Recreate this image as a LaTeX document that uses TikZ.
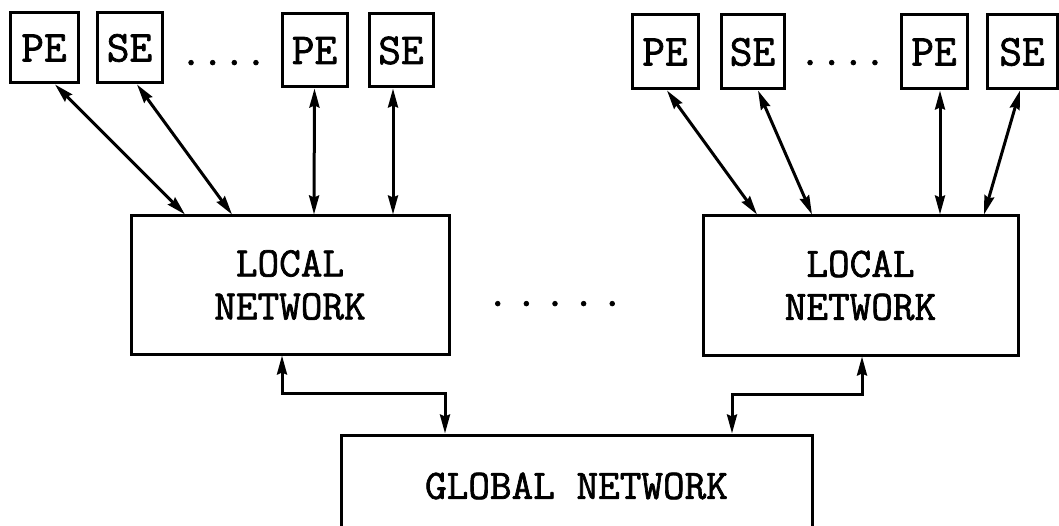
\documentclass[tikz,border=0pt]{standalone}
\usepackage{fontspec}
\usetikzlibrary{arrows.meta}
% a slightly heavier typewriter face
\newfontfamily\twfont[FakeBold=1.6]{Latin Modern Mono}
\begin{document}
\begin{tikzpicture}[x=1pt,y=-1pt,
  line width=3pt,
  every node/.style={font=\twfont\fontsize{42}{43}\selectfont},
  elem/.style={draw, rectangle, inner sep=0pt, minimum height=73pt,
    font=\twfont\fontsize{44}{44}\selectfont},
  netbox/.style={draw, rectangle, inner sep=0pt, align=center},
  link/.style={{Stealth[length=19pt,width=10pt,inset=2pt]}-{Stealth[length=19pt,width=10pt,inset=2pt]}},
  dotrow/.style={anchor=base, inner sep=0pt}]
\useasboundingbox (0,0) rectangle (1059,526);

% processing and storage elements, left cluster
\node[elem, minimum width=68pt, minimum height=70pt] (pe1) at (44,48) {PE};
\node[elem, minimum width=65pt, minimum height=70pt] (se1) at (129.5,48) {SE};
\node[dotrow] (d1) at (223.5,65) {....};
\node[elem, minimum width=65pt] (pe2) at (314.5,50.5) {PE};
\node[elem, minimum width=64pt] (se2) at (401,50.5) {SE};

% processing and storage elements, right cluster
\node[elem, minimum width=66pt, minimum height=74pt] (pe3) at (665,52) {PE};
\node[elem, minimum width=63pt, minimum height=74pt] (se3) at (752.5,52) {SE};
\node[dotrow] (d2) at (842.5,65) {....};
\node[elem, minimum width=66pt, minimum height=74pt] (pe4) at (934,52) {PE};
\node[elem, minimum width=70pt, minimum height=74pt] (se4) at (1022,52) {SE};

% local networks
\node[netbox, minimum width=318pt, minimum height=138pt] (loc1) at (290,285) {LOCAL\\NETWORK};
\node[dotrow] (d3) at (555,306) {.\hspace{7pt}.\hspace{7pt}.\hspace{7pt}.\hspace{7pt}.};
\node[netbox, minimum width=315pt, minimum height=139pt] (loc2) at (860.5,285.5) {LOCAL\\NETWORK};

% global network (its lower edge runs off the page)
\node[netbox, minimum width=471pt, minimum height=102pt] (glob) at (576.5,486) {GLOBAL NETWORK};

% element-to-local links
\draw[link] ([xshift=11pt]pe1.south) -- ([xshift=-105pt]loc1.north);
\draw[link] ([xshift=7.5pt]se1.south) -- ([xshift=-58pt]loc1.north);
\draw[link] ([xshift=0pt]pe2.south) -- ([xshift=24pt]loc1.north);
\draw[link] ([xshift=-8pt]se2.south) -- ([xshift=103pt]loc1.north);

\draw[link] ([xshift=2pt]pe3.south) -- ([xshift=-103.5pt]loc2.north);
\draw[link] ([xshift=5.5pt]se3.south) -- ([xshift=-48.5pt]loc2.north);
\draw[link] ([xshift=6pt]pe4.south) -- ([xshift=79.5pt]loc2.north);
\draw[link] ([xshift=-2pt]se4.south) -- ([xshift=123.5pt]loc2.north);

% local-to-global links
\coordinate (jl) at (363,393);
\coordinate (jr) at (797,394);
\draw[link, line join=miter] ([xshift=-8pt]loc1.south) |- (jl) -| ([xshift=-131.5pt]glob.north);
\draw[link, line join=miter] ([xshift=1.5pt]loc2.south) |- (jr) -| ([xshift=155.5pt]glob.north);
\end{tikzpicture}
\end{document}
